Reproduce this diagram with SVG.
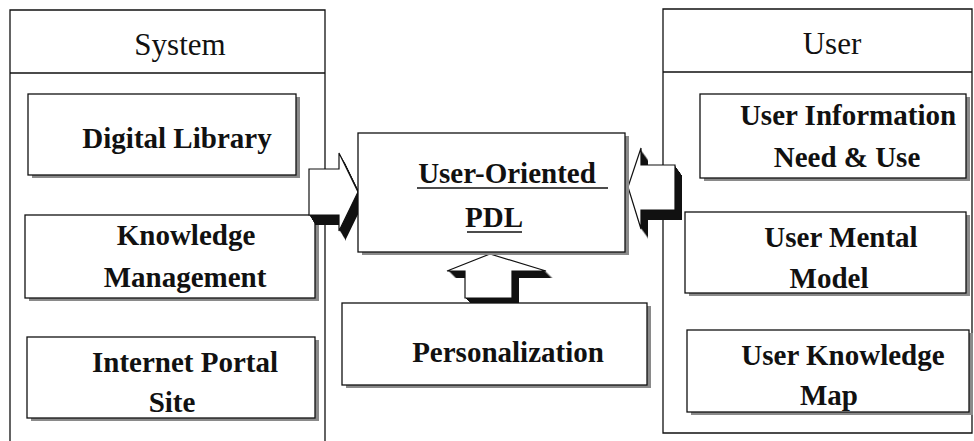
<svg xmlns="http://www.w3.org/2000/svg" xmlns:xlink="http://www.w3.org/1999/xlink" width="974" height="441" viewBox="0 0 974 441">
  <style>
    .frame { fill: none; stroke: #111; stroke-width: 1.3; }
    .box { fill: #fff; stroke: #111; stroke-width: 1.3; }
    .shade { fill: #8a8a8a; }
    .ext { fill: #111; }
    .arrow { fill: #fff; stroke: #111; stroke-width: 1.2; stroke-linejoin: miter; }
    .hdr { font-family: "Liberation Serif", "Times New Roman", serif; font-size: 31px; fill: #111; text-anchor: middle; }
    .lbl { font-family: "Liberation Serif", "Times New Roman", serif; font-size: 29px; font-weight: bold; fill: #111; text-anchor: middle; }
    .uline { stroke: #111; stroke-width: 1.6; }
  </style>
  <defs>
    <!-- block arrows; each is extruded by stacking shifted black copies -->
    <path id="arrow-right" d="M309,169 H339 V153 L358,192 L339,231 V215 H309 Z"/>
    <path id="arrow-left" d="M628,187 L641,148 V165 H675 V210 H641 V229 Z"/>
    <path id="arrow-up" d="M490,254 L546,271 H512 V298 H465 V271 H447 Z"/>
  </defs>

  <rect width="974" height="441" fill="#fff"/>

  <!-- left column frame: open at the bottom -->
  <g id="system-panel">
    <path class="frame" d="M10,441 V10 H325 V441 M10,73 H325"/>
    <text class="hdr" x="180" y="55">System</text>
  </g>

  <!-- right column frame -->
  <g id="user-panel">
    <path class="frame" d="M663,433 V9 H972 V433 Z M663,72 H972"/>
    <text class="hdr" x="832" y="54">User</text>
  </g>

  <g id="digital-library">
    <rect class="shade" x="32" y="97" width="268" height="81"/>
    <rect class="box" x="28" y="94" width="268" height="81"/>
    <text class="lbl" x="177" y="148">Digital Library</text>
  </g>

  <g id="knowledge-management">
    <rect class="shade" x="29" y="218" width="290" height="83"/>
    <rect class="box" x="25" y="215" width="290" height="83"/>
    <text class="lbl" x="186" y="245">Knowledge</text>
    <text class="lbl" x="185" y="287">Management</text>
  </g>

  <g id="internet-portal-site">
    <rect class="shade" x="31" y="340" width="288" height="81"/>
    <rect class="box" x="27" y="337" width="288" height="81"/>
    <text class="lbl" x="185" y="372">Internet Portal</text>
    <text class="lbl" x="172" y="412">Site</text>
  </g>

  <g id="user-information-need">
    <rect class="shade" x="704" y="97" width="266" height="84"/>
    <rect class="box" x="700" y="94" width="266" height="84"/>
    <text class="lbl" x="848" y="125">User Information</text>
    <text class="lbl" x="847" y="167">Need &amp; Use</text>
  </g>

  <g id="user-mental-model">
    <rect class="shade" x="689" y="215" width="281" height="81"/>
    <rect class="box" x="685" y="212" width="281" height="81"/>
    <text class="lbl" x="841" y="247">User Mental</text>
    <text class="lbl" x="829" y="288">Model</text>
  </g>

  <g id="user-knowledge-map">
    <rect class="shade" x="691" y="333" width="282" height="82"/>
    <rect class="box" x="687" y="330" width="282" height="82"/>
    <text class="lbl" x="843" y="365">User Knowledge</text>
    <text class="lbl" x="829" y="405">Map</text>
  </g>

  <!-- connectors: three hollow block arrows with a solid black extrusion -->
  <g id="connectors">
    <g id="conn-system">
      <use class="ext" xlink:href="#arrow-right" transform="translate(1,1.7)"/>
      <use class="ext" xlink:href="#arrow-right" transform="translate(2,3.3)"/>
      <use class="ext" xlink:href="#arrow-right" transform="translate(3,5)"/>
      <use class="ext" xlink:href="#arrow-right" transform="translate(4,6.7)"/>
      <use class="ext" xlink:href="#arrow-right" transform="translate(5,8.3)"/>
      <use class="ext" xlink:href="#arrow-right" transform="translate(6,10)"/>
      <use class="arrow" xlink:href="#arrow-right"/>
    </g>
    <g id="conn-user">
      <use class="ext" xlink:href="#arrow-left" transform="translate(1,1.4)"/>
      <use class="ext" xlink:href="#arrow-left" transform="translate(2,2.9)"/>
      <use class="ext" xlink:href="#arrow-left" transform="translate(3,4.3)"/>
      <use class="ext" xlink:href="#arrow-left" transform="translate(4,5.7)"/>
      <use class="ext" xlink:href="#arrow-left" transform="translate(5,7.1)"/>
      <use class="ext" xlink:href="#arrow-left" transform="translate(6,8.6)"/>
      <use class="ext" xlink:href="#arrow-left" transform="translate(7,10)"/>
      <use class="arrow" xlink:href="#arrow-left"/>
    </g>
    <g id="conn-personalization">
      <use class="ext" xlink:href="#arrow-up" transform="translate(1,1)"/>
      <use class="ext" xlink:href="#arrow-up" transform="translate(2,2)"/>
      <use class="ext" xlink:href="#arrow-up" transform="translate(3,3)"/>
      <use class="ext" xlink:href="#arrow-up" transform="translate(4,4)"/>
      <use class="ext" xlink:href="#arrow-up" transform="translate(5,5)"/>
      <use class="ext" xlink:href="#arrow-up" transform="translate(6,6)"/>
      <use class="ext" xlink:href="#arrow-up" transform="translate(7,7)"/>
      <use class="arrow" xlink:href="#arrow-up"/>
    </g>
  </g>

  <g id="user-oriented-pdl">
    <rect class="shade" x="362" y="136" width="267" height="119"/>
    <rect class="box" x="358" y="133" width="267" height="119"/>
    <text class="lbl" x="507" y="183">User-Oriented</text>
    <line class="uline" x1="417" y1="188" x2="608" y2="188"/>
    <text class="lbl" x="494" y="227">PDL</text>
    <line class="uline" x1="467" y1="232" x2="522" y2="232"/>
  </g>

  <g id="personalization">
    <rect class="shade" x="346" y="306" width="305" height="82"/>
    <rect class="box" x="342" y="303" width="305" height="82"/>
    <text class="lbl" x="508" y="362">Personalization</text>
  </g>
</svg>
